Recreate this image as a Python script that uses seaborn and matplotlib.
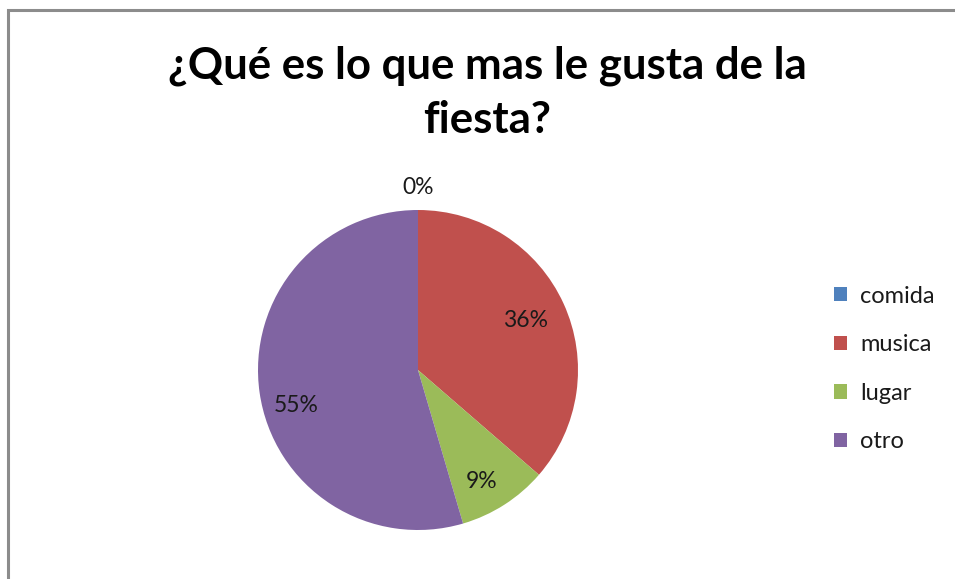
import numpy as np
import matplotlib
matplotlib.use("Agg")
import matplotlib.pyplot as plt
from matplotlib.patches import Rectangle, Patch
import seaborn as sns

# Survey answers: what people like most about the party
categories = ["comida", "musica", "lugar", "otro"]
counts = [0, 4, 1, 6]
colors = ["#4F81BD", "#C0504D", "#9BBB59", "#8064A2"]
title = "¿Qué es lo que mas le gusta de la\nfiesta?"

sns.set_theme(style="white")
plt.rcParams["font.family"] = ["Lato", "DejaVu Sans"]

W, H = 955, 579
fig = plt.figure(figsize=(W / 100, H / 100), dpi=100)
fig.patch.set_facecolor("white")

# Chart area frame (open at right and bottom edges)
fig.patches.append(Rectangle((8 / W, -0.1), 1.2, (H - 10) / H + 0.1,
                             transform=fig.transFigure, fill=False,
                             edgecolor="#8c8c8c", linewidth=2.2, zorder=0))

cx, cy, r = 418, H - 370, 160
ax = fig.add_axes([(cx - r) / W, (cy - r) / H, 2 * r / W, 2 * r / H])
wedges, _ = ax.pie(counts, colors=colors, startangle=90, counterclock=False,
                   radius=1.0, wedgeprops=dict(linewidth=0))
ax.set_xlim(-1, 1)
ax.set_ylim(-1, 1)
ax.set_aspect("equal")
ax.axis("off")

total = sum(counts)
label_r = {0: 1.14, 1: 0.74, 2: 0.80, 3: 0.79}
label_shift = {0: 0, 1: 0, 2: -3, 3: 8}
for i, (w, c) in enumerate(zip(wedges, counts)):
    ang = np.deg2rad((w.theta1 + w.theta2) / 2 + label_shift[i])
    rr = label_r[i]
    ax.text(rr * np.cos(ang), rr * np.sin(ang), f"{100 * c / total:.0f}%",
            ha="center", va="center", fontsize=16.5, color="#1a1a1a", clip_on=False)

fig.text(487 / W, 1 - 93 / H, title, ha="center", va="center",
         fontsize=31.5, fontweight="bold", color="black", linespacing=1.42)

handles = [Patch(facecolor=c, edgecolor="none") for c in colors]
fig.legend(handles, categories, loc="center left",
           bbox_to_anchor=(813 / W, 1 - 369 / H), frameon=False,
           fontsize=17, handlelength=0.55, handleheight=0.55, handletextpad=0.55,
           labelspacing=1.17, labelcolor="#1a1a1a")

fig.savefig("out.png", dpi=100)
